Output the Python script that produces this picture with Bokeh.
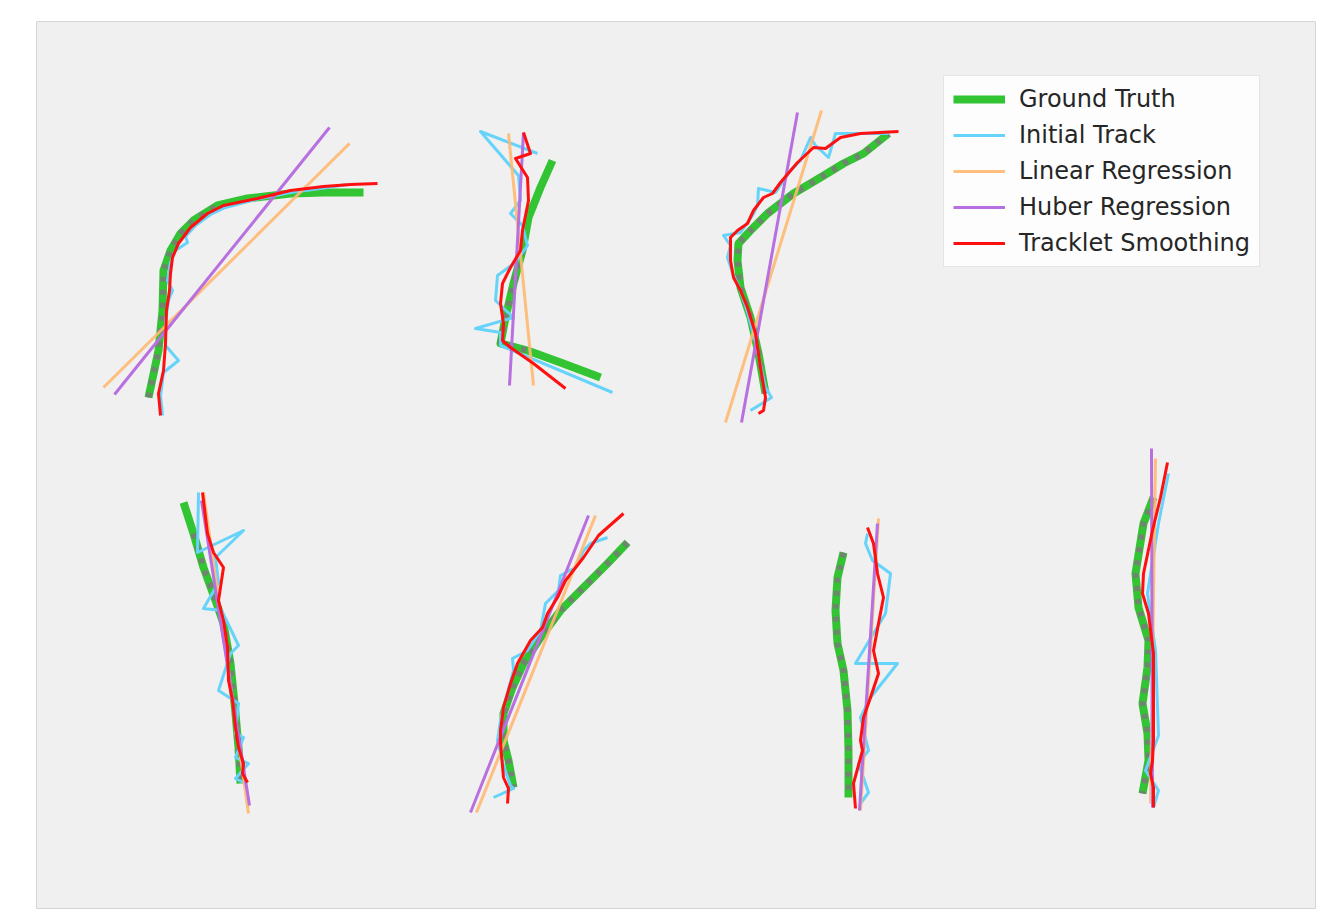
from bokeh.plotting import figure
from bokeh.models import Range1d, Legend, LegendItem
from bokeh.embed import file_html
from bokeh.resources import INLINE

# Seven trajectories, points (x to the right, y downward)
gt_pts = [
    [(148,397),(158,350),(162,310),(163,270),(170,250),(180,233),(193,220),(217,205),(247,198),(290,193),(323,192),(363,192)],
    [(552,160),(540,187),(528,217),(522,250),(513,283),(505,317),(500,343),(527,350),(560,362),(600,377)],
    [(765,393),(758,353),(750,317),(740,287),(737,260),(738,243),(750,230),(767,213),(793,193),(820,177),(843,163),(863,153),(888,133)],
    [(183,502),(193,533),(203,567),(215,600),(223,623),(230,663),(235,713),(238,747),(240,783)],
    [(627,542),(607,563),(583,587),(560,610),(540,637),(523,663),(512,687),(503,713),(503,740),(508,760),(513,787)],
    [(843,552),(837,577),(835,610),(837,643),(843,670),(847,710),(848,750),(848,797)],
    [(1153,497),(1143,523),(1135,573),(1138,607),(1148,640),(1147,667),(1142,703),(1147,733),(1148,760),(1142,793)],
]
# index range of each ground-truth path that carries the grey marks
gt_marked = [(0, 7), (3, 7), (0, 12), (1, 9), (0, 11), (0, 8), (0, 10)]

init_pts = [
    [(162,415),(160,395),(163,372),(178,360),(165,345),(165,320),(168,300),(172,290),(167,280),(170,262),(175,250),(187,242),(185,236),(195,225),(210,214),(225,207),(255,199),(290,192),(320,188),(347,184)],
    [(612,392),(500,345),(500,332),(475,328),(513,317),(495,300),(497,275),(515,262),(527,245),(522,225),(510,213),(520,200),(518,175),(480,131),(537,153)],
    [(750,410),(771,397),(765,387),(758,355),(752,330),(745,305),(738,285),(733,275),(727,257),(730,245),(723,235),(740,232),(752,215),(757,205),(758,188),(775,192),(790,170),(800,160),(810,137),(815,145),(828,157),(835,133),(880,133),(888,133)],
    [(198,492),(197,552),(243,530),(215,557),(218,582),(203,608),(221,610),(227,622),(238,645),(230,653),(218,690),(238,703),(235,733),(243,737),(235,757),(248,763),(235,778),(245,783)],
    [(607,537),(590,543),(583,550),(575,567),(560,575),(558,590),(545,603),(540,630),(527,650),(512,658),(513,670),(505,700),(500,720),(497,740),(503,765),(510,785),(513,788),(493,797)],
    [(867,533),(865,543),(872,560),(890,573),(885,613),(855,663),(897,663),(870,697),(860,717),(868,750),(858,763),(868,792),(860,803)],
    [(1168,473),(1158,523),(1147,593),(1155,650),(1158,735),(1145,770),(1158,790),(1153,807)],
]

linear_pts = [
    [(103,387),(349,143)],
    [(508,133),(533,385)],
    [(821,110),(725,422)],
    [(203,492),(248,813)],
    [(595,515),(476,812)],
    [(878,518),(860,810)],
    [(1155,458),(1150,803)],
]

huber_pts = [
    [(114,394),(329,127)],
    [(523,132),(509,385)],
    [(797,112),(741,422)],
    [(201,500),(249,805)],
    [(588,515),(470,812)],
    [(877,523),(859,810)],
    [(1151,448),(1152,807)],
]

smooth_pts = [
    [(160,415),(158,393),(163,370),(165,343),(166,310),(169,290),(170,273),(172,257),(178,243),(190,227),(207,213),(223,205),(257,198),(290,190),(323,186),(350,184),(377,183)],
    [(523,132),(530,153),(515,158),(527,177),(528,200),(522,230),(520,250),(510,267),(502,283),(500,303),(503,323),(502,340),(510,347),(533,363),(565,388)],
    [(758,413),(763,410),(765,397),(760,367),(755,333),(747,307),(740,290),(733,277),(730,260),(730,237),(737,230),(747,223),(753,210),(763,197),(772,193),(780,182),(797,162),(813,147),(825,148),(840,137),(860,133),(898,131)],
    [(202,492),(207,533),(213,552),(223,567),(218,600),(223,620),(227,647),(228,680),(232,700),(235,727),(238,747),(243,763),(242,773),(247,782)],
    [(623,513),(598,535),(583,557),(565,580),(557,597),(547,613),(542,627),(530,640),(517,663),(510,683),(503,707),(500,730),(500,743),(503,777),(508,788),(507,803)],
    [(867,527),(873,543),(877,573),(883,597),(878,623),(873,650),(878,673),(870,697),(863,717),(860,740),(862,750),(853,783),(855,808)],
    [(1167,462),(1160,497),(1152,530),(1143,573),(1142,593),(1148,613),(1153,653),(1153,740),(1152,760),(1150,773),(1153,787),(1153,807)],
]

labels = ["Ground Truth", "Initial Track", "Linear Regression", "Huber Regression", "Tracklet Smoothing"]


def split(paths):
    return [[x for x, _ in p] for p in paths], [[y for _, y in p] for p in paths]


p = figure(width=1316, height=909, x_range=Range1d(36, 1316), y_range=Range1d(909, 21),
           output_backend="svg", toolbar_location=None,
           min_border_left=36, min_border_top=21, min_border_right=0, min_border_bottom=0)
p.axis.visible = False
p.grid.visible = False
p.background_fill_color = "#f0f0f0"
p.border_fill_color = "white"
p.outline_line_color = "#d6d6d6"
p.outline_line_width = 1

gx, gy = split(gt_pts)
r_gt = p.multi_line(gx, gy, line_color="#33c433", line_width=8, line_cap="butt", line_join="round")
marked = [pts[a:b + 1] for pts, (a, b) in zip(gt_pts, gt_marked)]
mx, my = split(marked)
p.multi_line(mx, my, line_color="#7a7a7a", line_width=6, line_dash="5 8", line_alpha=0.85, line_cap="butt")

ix, iy = split(init_pts)
r_init = p.multi_line(ix, iy, line_color="#66d3fa", line_width=3, line_join="round")
lx, ly = split(linear_pts)
r_lin = p.multi_line(lx, ly, line_color="#ffb870", line_width=3, line_alpha=0.9)
hx, hy = split(huber_pts)
r_hub = p.multi_line(hx, hy, line_color="#b86fe0", line_width=3)
sx, sy = split(smooth_pts)
r_sm = p.multi_line(sx, sy, line_color="#ff1010", line_width=3, line_join="round")

items = [LegendItem(label=l, renderers=[r]) for l, r in zip(labels, [r_gt, r_init, r_lin, r_hub, r_sm])]
legend = Legend(items=items, location=(907, 642),
                label_text_font="DejaVu Sans", label_text_font_size="24px", label_text_color="#262626",
                border_line_color="#cccccc", border_line_width=1.5, background_fill_color="white",
                background_fill_alpha=0.85, glyph_width=52, glyph_height=20, label_height=20,
                spacing=8, padding=9, label_standoff=14, margin=0)
p.add_layout(legend)

open("out.html", "w").write(file_html(p, INLINE))
